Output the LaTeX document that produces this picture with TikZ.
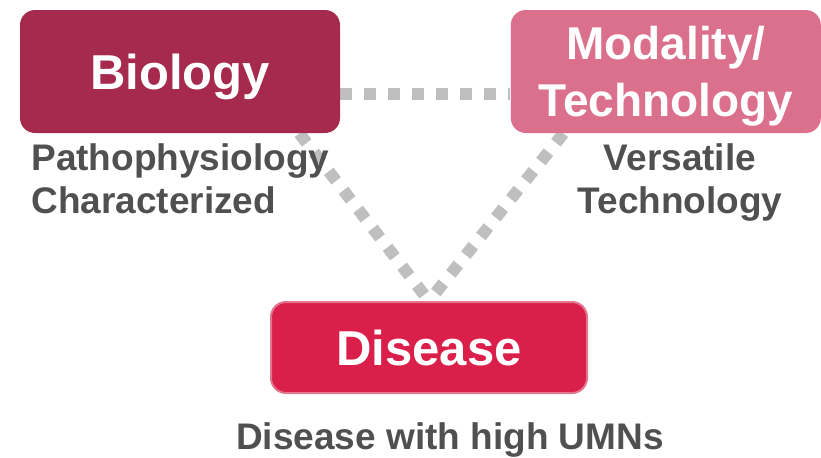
\documentclass[tikz,border=0pt]{standalone}
\usepackage{fontspec}
\setmainfont{Liberation Sans}
\usetikzlibrary{positioning}
\usetikzlibrary{backgrounds}

\definecolor{biocol}{HTML}{A52A4D}
\definecolor{modcol}{HTML}{DB708C}
\definecolor{discol}{HTML}{D91F4A}
\definecolor{disline}{HTML}{E3768F}
\definecolor{dotgray}{HTML}{BFBFBF}
\definecolor{txtgray}{HTML}{505050}

\begin{document}
\begin{tikzpicture}[x=0.5pt, y=-0.5pt,
    box/.style={rectangle, rounded corners=7.5pt, text=white, align=center, inner sep=0pt, text depth=0pt,
        font=\bfseries\fontsize{24.5}{31}\selectfont},
    caption/.style={text=txtgray, inner sep=0pt, font=\bfseries\fontsize{18.5}{21.5}\selectfont},
    link/.style={draw=dotgray, line width=6pt, dash pattern=on 6pt off 6pt}]

    \useasboundingbox (0,0) rectangle (821,457);

    \node(Bio)[box, fill=biocol, minimum width=160pt, minimum height=61.5pt] at (180,71.5) {Biology};
    \node(Mod)[box, fill=modcol, minimum width=155pt, minimum height=61.5pt, right=85pt of Bio,
        font=\bfseries\fontsize{23}{28.5}\selectfont] {Modality/\\Technology};
    \node(Dis)[box, fill=discol, draw=disline, line width=1pt, minimum width=158pt, minimum height=45.5pt] at (429,347.5) {Disease};

    \node(BioTxt)[caption, anchor=north west, align=left] at (31,143) {Pathophysiology\\Characterized};
    \node(ModTxt)[caption, anchor=north, align=center] at (680,143) {Versatile\\Technology};
    \node(DisTxt)[caption, anchor=north] at (450,422) {Disease with high UMNs};

    \begin{scope}[on background layer]
        \draw[link] ([yshift=-11.25pt]Bio.east) -- ([yshift=-11.25pt]Mod.west);
        \draw[link] ([xshift=-20.5pt]Bio.south east) -- (Dis.north);
        \draw[link] ([xshift=26.5pt]Mod.south west) -- (Dis.north);
    \end{scope}

\end{tikzpicture}
\end{document}
